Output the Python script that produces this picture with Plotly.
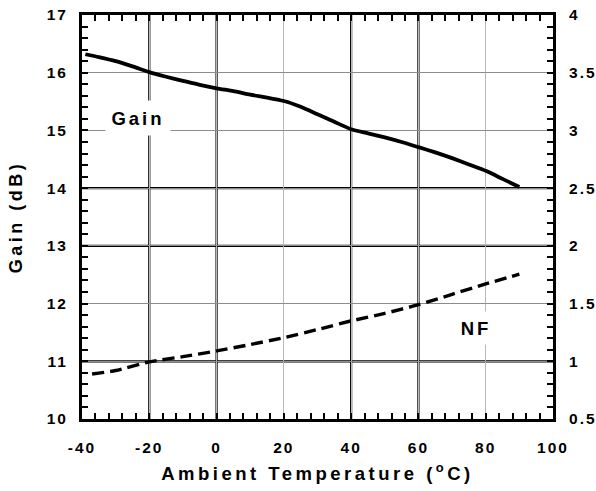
import plotly.graph_objects as go

# Data
gain_temp = [-39, -35, -30, -25, -20, -15, -10, -5, 0, 5, 10, 15, 20, 25, 30, 35, 40,
             45, 50, 55, 60, 65, 70, 75, 80, 85, 90]
gain_db = [16.32, 16.27, 16.20, 16.11, 16.01, 15.93, 15.86, 15.79, 15.73, 15.68, 15.62,
           15.57, 15.51, 15.41, 15.28, 15.15, 15.02, 14.95, 14.88, 14.80, 14.71, 14.62,
           14.52, 14.41, 14.30, 14.16, 14.02]
nf_temp = [-37, -30, -20, -10, 0, 10, 20, 30, 40, 50, 60, 70, 80, 90]
nf_db = [0.89, 0.92, 0.995, 1.04, 1.09, 1.145, 1.205, 1.275, 1.35, 1.415, 1.49, 1.58, 1.67, 1.755]

x_ticks = [-40, -20, 0, 20, 40, 60, 80, 100]
y_ticks = [10, 11, 12, 13, 14, 15, 16, 17]
y2_ticks = [0.5, 1, 1.5, 2, 2.5, 3, 3.5, 4]
y2_labels = ["0.5", "1", "1.5", "2", "2.5", "3", "3.5", "4"]
bold_x_grid = [-20, 0, 40, 60]
bold_y_grid = [11, 13, 14]

FONT = "Arial, Liberation Sans, sans-serif"

fig = go.Figure()
fig.add_trace(go.Scatter(x=gain_temp, y=gain_db, mode="lines", name="Gain",
                         line=dict(color="black", width=3.8, shape="spline", smoothing=0.6),
                         yaxis="y"))
fig.add_trace(go.Scatter(x=nf_temp, y=nf_db, mode="lines", name="NF",
                         line=dict(color="black", width=3.4, dash="12px,6px",
                                   shape="spline", smoothing=0.6), yaxis="y2"))

shapes = []
for xv in bold_x_grid:
    shapes.append(dict(type="line", xref="x", yref="paper", x0=xv, x1=xv, y0=0, y1=1,
                       line=dict(color="black", width=2.2), layer="below"))
for yv in bold_y_grid:
    shapes.append(dict(type="line", xref="paper", yref="y", x0=0, x1=1, y0=yv, y1=yv,
                       line=dict(color="black", width=2.2), layer="below"))

tickfont = dict(family=FONT, size=15.5, color="black", weight="bold")

fig.update_layout(
    width=596, height=491,
    margin=dict(l=82, r=43, t=15, b=72),
    paper_bgcolor="white", plot_bgcolor="white",
    showlegend=False,
    shapes=shapes,
    xaxis=dict(
        range=[-40, 100], tickvals=x_ticks, ticktext=[str(v) for v in x_ticks],
        showline=True, linecolor="black", linewidth=3, mirror="allticks",
        ticks="inside", ticklen=6, tickwidth=2, tickcolor="black",
        showgrid=True, gridcolor="#b8b8b8", gridwidth=1,
        minor=dict(dtick=4, ticks="inside", ticklen=6, tickwidth=2, tickcolor="black",
                   showgrid=False),
        tickfont=tickfont, ticklabelstandoff=12, zeroline=False, automargin=False,
        title=dict(text="Ambient Temperature (<sup>o</sup>C)",
                   font=dict(family=FONT, size=18.5, color="black", weight="bold"),
                   standoff=13),
    ),
    yaxis=dict(
        range=[10, 17], tickvals=y_ticks, ticktext=[str(v) for v in y_ticks],
        showline=True, linecolor="black", linewidth=3, mirror=False,
        ticks="inside", ticklen=6, tickwidth=2, tickcolor="black",
        showgrid=True, gridcolor="#8c8c8c", gridwidth=1,
        minor=dict(dtick=0.2, ticks="inside", ticklen=6, tickwidth=2, tickcolor="black",
                   showgrid=False),
        tickfont=tickfont, ticklabelstandoff=8, zeroline=False, automargin=False,
        title=dict(text="Gain (dB)",
                   font=dict(family=FONT, size=18, color="black", weight="bold"),
                   standoff=24),
    ),
    yaxis2=dict(
        range=[0.5, 4], overlaying="y", side="right", anchor="x",
        tickvals=y2_ticks, ticktext=y2_labels,
        showline=True, linecolor="black", linewidth=3,
        ticks="inside", ticklen=6, tickwidth=2, tickcolor="black",
        showgrid=False, zeroline=False, automargin=False,
        minor=dict(dtick=0.1, ticks="inside", ticklen=6, tickwidth=2, tickcolor="black",
                   showgrid=False),
        tickfont=tickfont, ticklabelstandoff=10,
    ),
    annotations=[
        dict(x=-23.4, y=15.21, xref="x", yref="y", text="Gain", showarrow=False,
             font=dict(family=FONT, size=18.5, color="black", weight="bold"),
             bgcolor="white", width=62, height=32),
        dict(x=77.2, y=11.57, xref="x", yref="y", text="NF", showarrow=False,
             font=dict(family=FONT, size=18.5, color="black", weight="bold"),
             bgcolor="white", width=42, height=30),
    ],
)

post = """
document.querySelectorAll('.xtick text, .ytick text, .y2tick text').forEach(function(t){t.style.letterSpacing='2px';});
document.querySelectorAll('.g-xtitle text, .g-ytitle text').forEach(function(t){t.style.letterSpacing='3.5px';});
document.querySelectorAll('.annotation-text').forEach(function(t){t.style.letterSpacing='3px';});
"""

fig.write_html("out.html", post_script=post)
